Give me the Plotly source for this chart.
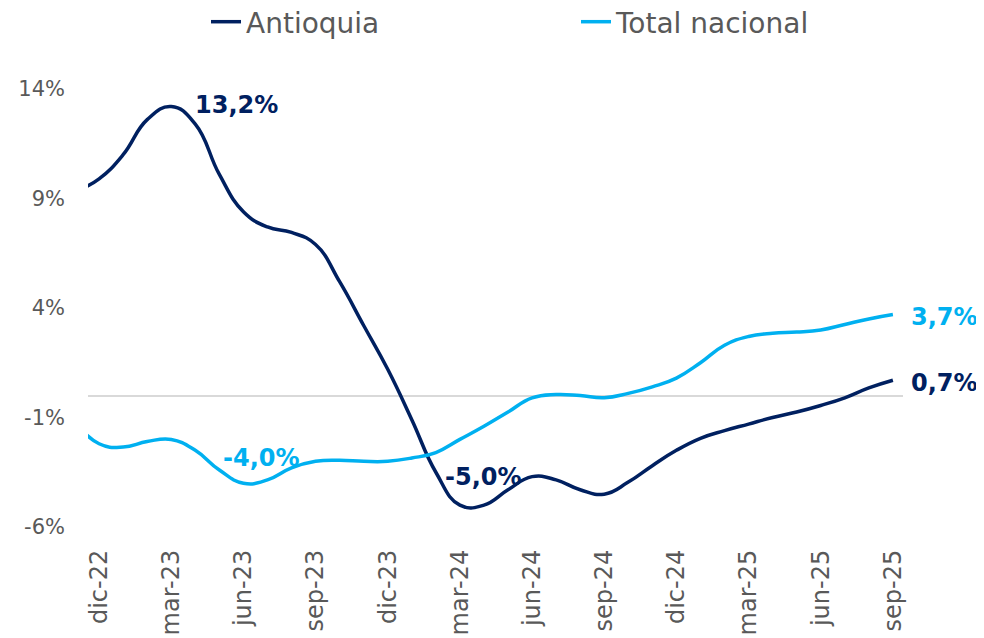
import plotly.graph_objects as go

# ---- data (monthly, nov-22 .. sep-25) ----
months = ["nov-22", "dic-22", "ene-23", "feb-23", "mar-23", "abr-23", "may-23", "jun-23",
          "jul-23", "ago-23", "sep-23", "oct-23", "nov-23", "dic-23", "ene-24", "feb-24",
          "mar-24", "abr-24", "may-24", "jun-24", "jul-24", "ago-24", "sep-24", "oct-24",
          "nov-24", "dic-24", "ene-25", "feb-25", "mar-25", "abr-25", "may-25", "jun-25",
          "jul-25", "ago-25", "sep-25"]

antioquia = [9.3, 9.9, 11.0, 12.6, 13.2, 12.4, 10.1, 8.4, 7.7, 7.45, 6.9, 5.2, 3.2, 1.2,
             -1.1, -3.5, -5.0, -5.0, -4.3, -3.7, -3.85, -4.3, -4.5, -3.95, -3.2, -2.5,
             -1.95, -1.6, -1.3, -1.0, -0.75, -0.45, -0.1, 0.35, 0.7]

total_nacional = [-1.2, -2.2, -2.35, -2.1, -2.0, -2.5, -3.4, -4.0, -3.85, -3.3, -3.0, -2.95,
                  -3.0, -3.0, -2.85, -2.6, -2.0, -1.4, -0.75, -0.1, 0.05, 0.0, -0.1, 0.1,
                  0.4, 0.8, 1.5, 2.3, 2.7, 2.85, 2.9, 3.0, 3.25, 3.5, 3.7]

tick_labels = ["dic-22", "mar-23", "jun-23", "sep-23", "dic-23", "mar-24", "jun-24",
               "sep-24", "dic-24", "mar-25", "jun-25", "sep-25"]
y_ticks = [-6, -1, 4, 9, 14]

DARK = "#002060"
LIGHT = "#00B0F0"
GREY = "#595959"
FONT = "DejaVu Sans, sans-serif"


def fmt(v):
    return f"{v:.1f}".replace(".", ",") + "%"


fig = go.Figure()
fig.add_trace(go.Scatter(x=months, y=antioquia, name="Antioquia", mode="lines",
                         line=dict(color=DARK, width=3.5, shape="spline", smoothing=1.3)))
fig.add_trace(go.Scatter(x=months, y=total_nacional, name="Total nacional", mode="lines",
                         line=dict(color=LIGHT, width=3.5, shape="spline", smoothing=1.3)))

# data labels
i_max = antioquia.index(max(antioquia))
i_min_a = months.index("mar-24")
i_min_t = total_nacional.index(min(total_nacional))
last = len(months) - 1
ann = [
    dict(x=months[i_max], y=antioquia[i_max], text=fmt(antioquia[i_max]), color=DARK,
         xshift=22, yshift=2),
    dict(x=months[i_min_t], y=total_nacional[i_min_t], text=fmt(total_nacional[i_min_t]),
         color=LIGHT, xshift=-22, yshift=25),
    dict(x=months[i_min_a], y=antioquia[i_min_a], text=fmt(antioquia[i_min_a]), color=DARK,
         xshift=-17, yshift=28),
    dict(x=months[last], y=total_nacional[last], text=fmt(total_nacional[last]), color=LIGHT,
         xshift=16, yshift=-2),
    dict(x=months[last], y=antioquia[last], text=fmt(antioquia[last]), color=DARK,
         xshift=16, yshift=-3),
]
for a in ann:
    fig.add_annotation(x=a["x"], y=a["y"], xref="x", yref="y", text=f"<b>{a['text']}</b>",
                       showarrow=False, xanchor="left", yanchor="middle",
                       xshift=a["xshift"], yshift=a["yshift"],
                       font=dict(family=FONT, size=24, color=a["color"]))

fig.update_layout(
    width=984, height=638,
    margin=dict(l=80, r=89, t=81, b=119, autoexpand=False),
    paper_bgcolor="white", plot_bgcolor="white",
    font=dict(family=FONT, color=GREY),
    showlegend=True,
    legend=dict(orientation="h", xref="container", yref="container", x=198 / 984,
                xanchor="left", y=1 - 14 / 638, yanchor="middle",
                font=dict(size=28, color=GREY, family=FONT),
                entrywidth=325, entrywidthmode="pixels"),
    xaxis=dict(type="category", range=[0.54, last + 0.42], showgrid=False, zeroline=False,
               showline=False, tickmode="array", tickvals=tick_labels, ticktext=tick_labels,
               tickangle=-90, tickfont=dict(size=24, color=GREY, family=FONT), ticks="",
               ticklabelstandoff=17, automargin=False),
    yaxis=dict(range=[-6, 14], showgrid=False, zeroline=True, zerolinecolor="#D9D9D9",
               zerolinewidth=2, showline=False, tickmode="array", tickvals=y_ticks,
               ticktext=[f"{v}%" for v in y_ticks], ticks="",
               tickfont=dict(size=21, color=GREY, family=FONT), ticklabelstandoff=22,
               automargin=False),
)

fig.write_html("out.html")
